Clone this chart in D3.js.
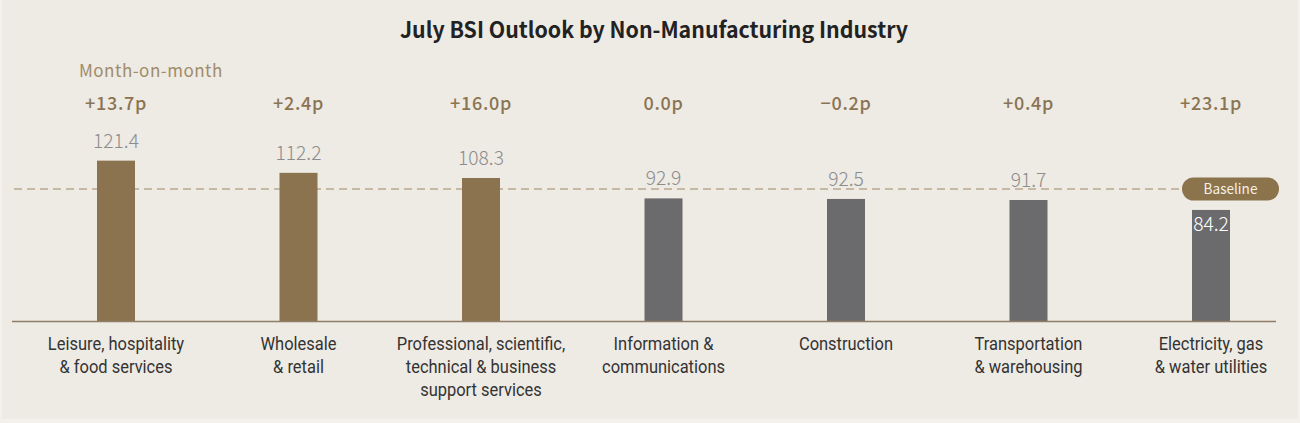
<!DOCTYPE html>
<html>
<head>
<meta charset="utf-8">
<script src="https://cdn.jsdelivr.net/npm/d3@7"></script>
<style>
  body { margin: 0; background: #f4f1ec; }
  svg { display: block; font-family: "Noto Sans CJK KR", "Noto Sans", sans-serif; }
</style>
</head>
<body>
<div id="chart"></div>
<script>
// donnees
const categories = [
  ["Leisure, hospitality", "& food services"],
  ["Wholesale", "& retail"],
  ["Professional, scientific,", "technical & business", "support services"],
  ["Information &", "communications"],
  ["Construction"],
  ["Transportation", "& warehousing"],
  ["Electricity, gas", "& water utilities"]
];
const bsiValues = [121.4, 112.2, 108.3, 92.9, 92.5, 91.7, 84.2];
const momChanges = [13.7, 2.4, 16.0, 0.0, -0.2, 0.4, 23.1];
const baselineValue = 100;

const W = 1300, H = 423;

const svg = d3.select("#chart").append("svg")
  .attr("width", W).attr("height", H);

svg.append("rect")
  .attr("x", 2).attr("y", 0)
  .attr("width", W - 4).attr("height", 419)
  .attr("fill", "#eeeae4");

const x = d3.scalePoint()
  .domain(d3.range(categories.length))
  .range([116, 1211]);

const y = d3.scaleLinear()
  .domain([0, baselineValue])
  .range([321.5, 189]);

const barW = 38;

// texte un peu comprime horizontalement comme dans l'original
function txt(g, px, py, s, sx) {
  return g.append("text")
    .attr("transform", `translate(${px},${py}) scale(${sx || 1},1)`)
    .text(s);
}

// titre
txt(svg, 654, 38, "July BSI Outlook by Non-Manufacturing Industry", 0.97)
  .attr("text-anchor", "middle")
  .attr("font-size", 22).attr("font-weight", 700)
  .attr("fill", "#222");

// ligne de base
svg.append("line")
  .attr("x1", 14).attr("x2", 1182)
  .attr("y1", y(baselineValue)).attr("y2", y(baselineValue))
  .attr("stroke", "#9c8866").attr("stroke-width", 1.2)
  .attr("stroke-dasharray", "8,5");

// barres
svg.selectAll(".bar")
  .data(bsiValues)
  .join("rect")
  .attr("class", "bar")
  .attr("x", (d, i) => x(i) - barW / 2)
  .attr("y", d => y(d))
  .attr("width", barW)
  .attr("height", d => y(0) - y(d))
  .attr("fill", d => d >= baselineValue ? "#8a734e" : "#6b6b6e");

// axe
svg.append("line")
  .attr("x1", 12).attr("x2", 1276)
  .attr("y1", y(0)).attr("y2", y(0))
  .attr("stroke", "#8e7e66").attr("stroke-width", 1.6);

// pastille Baseline
svg.append("rect")
  .attr("x", 1182).attr("y", y(baselineValue) - 11.5)
  .attr("width", 97).attr("height", 23).attr("rx", 11.5)
  .attr("fill", "#8b734c");
txt(svg, 1230.5, y(baselineValue) + 5, "Baseline", 0.97)
  .attr("text-anchor", "middle")
  .attr("font-size", 14)
  .attr("fill", "#f6f0e6");

// valeurs
bsiValues.forEach((v, i) => {
  const inside = y(v) - 13 > y(baselineValue);
  txt(svg, x(i), inside ? y(v) + 21 : y(v) - 13, v.toFixed(1), 0.96)
    .attr("text-anchor", "middle")
    .attr("font-size", 20).attr("font-weight", 300)
    .attr("fill", inside ? "#ffffff" : "#8c8c8c");
});

// variations
const fmt = d => (d > 0 ? "+" : d < 0 ? "\u2212" : "") + Math.abs(d).toFixed(1) + "p";
momChanges.forEach((c, i) => {
  txt(svg, x(i), 110, fmt(c))
    .attr("text-anchor", "middle")
    .attr("font-size", 18).attr("font-weight", 500)
    .attr("letter-spacing", 0.7)
    .attr("fill", "#8a7452");
});
txt(svg, 79, 77, "Month-on-month")
  .attr("font-size", 17).attr("font-weight", 400)
  .attr("letter-spacing", 0.5)
  .attr("fill", "#a08c6a");

// etiquettes des categories
categories.forEach((lines, i) => {
  const t = txt(svg, x(i), 350, null, 0.89)
    .attr("text-anchor", "middle")
    .attr("font-family", "Roboto, sans-serif")
    .attr("font-size", 18.5)
    .attr("fill", "#333");
  lines.forEach((l, k) => {
    t.append("tspan")
      .attr("x", 0).attr("y", k * 23)
      .text(l);
  });
});
</script>
</body>
</html>
